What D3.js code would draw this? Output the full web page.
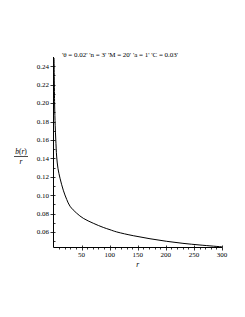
<!DOCTYPE html>
<html>
<head>
<meta charset="utf-8">
<script src="https://cdn.jsdelivr.net/npm/d3@7"></script>
<style>
  html, body { margin: 0; padding: 0; background: #fff; }
  svg { display: block; }
</style>
</head>
<body>
<svg id="chart" width="245" height="317"></svg>
<script>
// values (r, b(r)/r)
const rValues     = [1, 2, 3, 4, 5.7, 8, 11.6, 17.4, 23.5, 29.4, 41.3, 53, 70.8, 88.6, 100.6, 112.5, 142, 171.8, 201.5, 230.5, 260.8, 300];
const ratioValues = [0.249, 0.199, 0.176, 0.161, 0.1415, 0.129, 0.1185, 0.1055, 0.0955, 0.0881, 0.0805, 0.0750, 0.0696, 0.0651, 0.0626, 0.0602, 0.0561, 0.0528, 0.0500, 0.0478, 0.0460, 0.0440];
const xTicks = [50, 100, 150, 200, 250, 300];
const yTicks = [0.06, 0.08, 0.10, 0.12, 0.14, 0.16, 0.18, 0.20, 0.22, 0.24];
const titleText = "'\u03B8 = 0.02' 'n = 3' 'M = 20' 'a = 1' 'C = 0.03'";

const svg = d3.select("#chart");
const FONT = "'Liberation Serif', 'Times New Roman', serif";
const INK = "#000";

const x = d3.scaleLinear().domain([0, 300]).range([53.5, 222]);
const y = d3.scaleLinear().domain([0.0433, 0.25]).range([247.5, 57]);

const pts = rValues.map((r, i) => ({ r, v: ratioValues[i] }));

// minor ticks every 10 on x, every 0.01 on y
const xMinor = d3.range(10, 301, 10).filter(d => d % 50 !== 0);
const yMinor = d3.range(0.05, 0.25, 0.02).map(d => +d.toFixed(2));

// axis lines
const x0 = x(0), yb = y(0.0433);
svg.append("line")
  .attr("x1", x0).attr("x2", x0)
  .attr("y1", y(0.25)).attr("y2", yb)
  .attr("stroke", INK).attr("stroke-width", 1);
svg.append("line")
  .attr("x1", x0).attr("x2", x(300))
  .attr("y1", yb).attr("y2", yb)
  .attr("stroke", INK).attr("stroke-width", 1);

// y ticks + labels
const gy = svg.append("g");
gy.selectAll("line.maj").data(yTicks).enter().append("line")
  .attr("x1", x0 - 3).attr("x2", x0 + 2)
  .attr("y1", d => Math.round(y(d)) + 0.5).attr("y2", d => Math.round(y(d)) + 0.5)
  .attr("stroke", INK).attr("stroke-width", 0.8);
gy.selectAll("line.min").data(yMinor).enter().append("line")
  .attr("x1", x0).attr("x2", x0 + 2)
  .attr("y1", d => Math.round(y(d)) + 0.5).attr("y2", d => Math.round(y(d)) + 0.5)
  .attr("stroke", INK).attr("stroke-width", 0.8);
gy.selectAll("text").data(yTicks).enter().append("text")
  .attr("x", x0 - 4.5).attr("y", d => y(d))
  .attr("dy", "0.33em")
  .attr("text-anchor", "end")
  .attr("font-family", FONT).attr("font-size", 7).attr("fill", INK)
  .text(d => d3.format(".2f")(d));

// x ticks + labels
const gx = svg.append("g");
gx.selectAll("line.maj").data(xTicks).enter().append("line")
  .attr("x1", d => Math.round(x(d)) + 0.5).attr("x2", d => Math.round(x(d)) + 0.5)
  .attr("y1", yb - 2).attr("y2", yb + 3)
  .attr("stroke", INK).attr("stroke-width", 0.8);
gx.selectAll("line.min").data(xMinor).enter().append("line")
  .attr("x1", d => Math.round(x(d)) + 0.5).attr("x2", d => Math.round(x(d)) + 0.5)
  .attr("y1", yb).attr("y2", yb + 2)
  .attr("stroke", INK).attr("stroke-width", 0.8);
gx.selectAll("text").data(xTicks).enter().append("text")
  .attr("x", d => x(d)).attr("y", yb + 9.5)
  .attr("text-anchor", "middle")
  .attr("font-family", FONT).attr("font-size", 7).attr("fill", INK)
  .text(d => d);

// curve
const line = d3.line()
  .x(d => x(d.r))
  .y(d => y(d.v))
  .curve(d3.curveCatmullRom.alpha(0.5));
svg.append("path")
  .datum(pts)
  .attr("d", line)
  .attr("fill", "none")
  .attr("stroke", INK)
  .attr("stroke-width", 1);

// title
svg.append("text")
  .attr("x", 120).attr("y", 57)
  .attr("text-anchor", "middle")
  .attr("font-family", FONT).attr("font-size", 7).attr("fill", INK)
  .text(titleText);

// x label
svg.append("text")
  .attr("x", x(150)).attr("y", yb + 19)
  .attr("text-anchor", "middle")
  .attr("font-family", FONT).attr("font-style", "italic")
  .attr("font-size", 7.5).attr("fill", INK)
  .text("r");

// y label: b(r) over r
const gl = svg.append("g").attr("transform", "translate(21,156)");
gl.append("text")
  .attr("y", -2).attr("text-anchor", "middle")
  .attr("font-family", FONT).attr("font-size", 7.5).attr("fill", INK)
  .html('<tspan font-style="italic">b</tspan>(<tspan font-style="italic">r</tspan>)');
gl.append("line")
  .attr("x1", -7).attr("x2", 7).attr("y1", 0.5).attr("y2", 0.5)
  .attr("stroke", INK).attr("stroke-width", 0.7);
gl.append("text")
  .attr("y", 7.5).attr("text-anchor", "middle")
  .attr("font-family", FONT).attr("font-style", "italic")
  .attr("font-size", 7.5).attr("fill", INK)
  .text("r");
</script>
</body>
</html>
